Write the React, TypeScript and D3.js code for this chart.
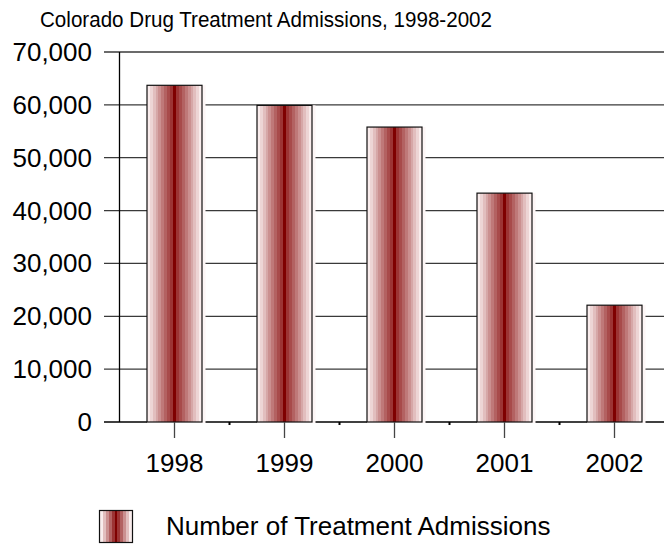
import React from "react";
import * as d3 from "d3";

const years = ["1998", "1999", "2000", "2001", "2002"];
const admissions = [63700, 59900, 55800, 43300, 22100];
const yTicks = [0, 10000, 20000, 30000, 40000, 50000, 60000, 70000];
const seriesName = "Number of Treatment Admissions";
const title = "Colorado Drug Treatment Admissions, 1998-2002";

const W = 664;
const H = 544;
const FONT = "'Liberation Sans', Arial, sans-serif";

function stripeStops(n: number) {
  const interp = d3.interpolateRgb("#f9ecec", "#9c3434");
  const stops: { offset: number; color: string }[] = [];
  const half = 0.47;
  for (let i = 0; i < n; i++) {
    const c = interp(i / (n - 1));
    const a = (i / n) * half;
    const b = ((i + 1) / n) * half;
    stops.push({ offset: a, color: c }, { offset: b, color: c });
  }
  stops.push({ offset: half, color: "#7f0000" }, { offset: 1 - half, color: "#7f0000" });
  for (let i = n - 1; i >= 0; i--) {
    const c = interp(i / (n - 1));
    const a = 1 - ((i + 1) / n) * half;
    const b = 1 - (i / n) * half;
    stops.push({ offset: a, color: c }, { offset: b, color: c });
  }
  return stops;
}

export default function App() {
  const x = d3.scaleBand<string>().domain(years).range([119.5, 669.5]).paddingInner(0.5).paddingOuter(0.25);
  const y = d3.scaleLinear().domain([0, 70000]).range([422, 52]);
  const step = x.step();
  const stops = stripeStops(9);
  const legStops = stripeStops(5);

  return (
    <svg
      width={W}
      height={H}
      style={{ position: "absolute", left: 0, top: 0, background: "#fff" }}
      fontFamily={FONT}
    >
      <defs>
        <linearGradient id="barGrad" x1="0" x2="1" y1="0" y2="0">
          {stops.map((s, i) => (
            <stop key={i} offset={s.offset} stopColor={s.color} />
          ))}
        </linearGradient>
        <linearGradient id="legGrad" x1="0" x2="1" y1="0" y2="0">
          {legStops.map((s, i) => (
            <stop key={i} offset={s.offset} stopColor={s.color} />
          ))}
        </linearGradient>
      </defs>
      <rect width={W} height={H} fill="#fff" />
      <text x={40} y={27} fontSize={22} fill="#000" textLength={452} lengthAdjust="spacingAndGlyphs">
        {title}
      </text>

      {/* gridlines and y ticks */}
      {yTicks.map((t) => (
        <g key={t}>
          <line x1={104} x2={W} y1={y(t)} y2={y(t)} stroke={t === 0 ? "#000" : "#3a3a3a"} strokeWidth={1.3} />
          <text x={92} y={y(t) + 9} textAnchor="end" fontSize={26} fill="#000">
            {d3.format(",")(t)}
          </text>
        </g>
      ))}
      <line x1={119.5} x2={119.5} y1={y(70000)} y2={y(0)} stroke="#000" strokeWidth={1.3} />

      {/* bars */}
      {years.map((yr, i) => {
        const bx = x(yr)!;
        const bw = x.bandwidth();
        const top = y(admissions[i]);
        return (
          <g key={yr}>
            <rect x={bx} y={top} width={bw + 3.5} height={y(0) - top + 1} fill="#fdf6f6" />
            <rect x={bx} y={top} width={bw} height={y(0) - top} fill="url(#barGrad)" stroke="#111" strokeWidth={1.2} />
          </g>
        );
      })}

      {/* x ticks */}
      {years.map((yr) => {
        const cx = x(yr)! + x.bandwidth() / 2;
        return (
          <g key={yr}>
            <line x1={cx} x2={cx} y1={y(0)} y2={y(0) + 16} stroke="#444" strokeWidth={1.3} />
            <text x={cx} y={472} textAnchor="middle" fontSize={26} fill="#000">
              {yr}
            </text>
          </g>
        );
      })}
      {years.slice(1).map((yr) => {
        const bx = x(yr)! + x.bandwidth() / 2 - step / 2;
        return <rect key={yr} x={bx - 1} y={y(0)} width={2} height={3} fill="#000" />;
      })}

      {/* legend */}
      <rect x={99.5} y={510.5} width={33} height={32} fill="url(#legGrad)" stroke="#111" strokeWidth={1.2} />
      <text x={166} y={535} fontSize={26} fill="#000">
        {seriesName}
      </text>
    </svg>
  );
}
